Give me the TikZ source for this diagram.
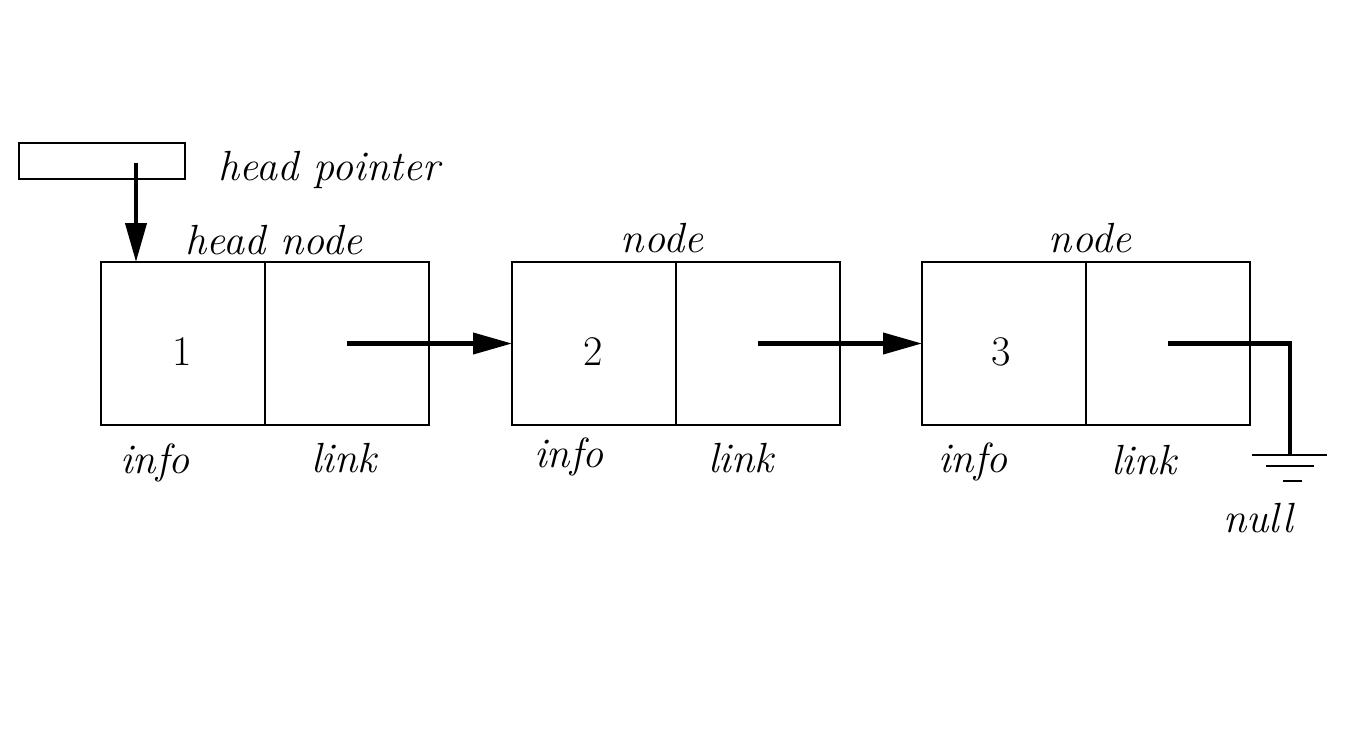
\documentclass[tikz,border=0pt]{standalone}
\usetikzlibrary{positioning,arrows.meta}

\tikzset{
  cell/.style={draw, line width=1pt, minimum width=3.28cm, minimum height=3.26cm, inner sep=0pt, outer sep=0pt},
  lbl/.style={font=\fontsize{24}{28}\selectfont\itshape, inner sep=0pt},
  num/.style={font=\fontsize{24}{28}\selectfont, inner sep=0pt},
  ptr/.style={line width=2.3pt, -{Triangle[length=0.78cm,width=0.42cm]}},
}

\begin{document}
\begin{tikzpicture}[x=0.02cm,y=-0.02cm]
  \useasboundingbox (0,0) rectangle (1350,741);

  \node[draw, line width=1pt, minimum width=3.32cm, minimum height=0.72cm, inner sep=0pt] (hp) at (102,161) {};
  \node[lbl] (hplabel) at (329,170) {head pointer};

  \node[cell] (info1) at (183,343.5) {};
  \node[cell, right=0pt of info1] (link1) {};
  \node[cell] (info2) at (594,343.5) {};
  \node[cell, right=0pt of info2] (link2) {};
  \node[cell] (info3) at (1004,343.5) {};
  \node[cell, right=0pt of info3] (link3) {};

  \node[num] (val1) at (182,352) {1};
  \node[num] (val2) at (593,352) {2};
  \node[num] (val3) at (1001,352) {3};

  \node[lbl] (headnode) at (274,240) {head node};
  \node[lbl] (node2) at (662,238) {node};
  \node[lbl] (node3) at (1090,238) {node};

  \node[lbl] (info1l) at (155,463) {info};
  \node[lbl] (link1l) at (344,458) {link};
  \node[lbl] (info2l) at (569,457) {info};
  \node[lbl] (link2l) at (741,458) {link};
  \node[lbl] (info3l) at (973,462) {info};
  \node[lbl] (link3l) at (1144,460) {link};
  \node[lbl] (null) at (1258,518) {null};

  \coordinate (hpstart) at (136,163);
  \draw[ptr] (hpstart) -- (hpstart |- info1.north);
  \draw[ptr] (link1.center) -- (info2.west);
  \draw[ptr] (link2.center) -- (info3.west);

  \coordinate (bend) at (1290,343.5);
  \coordinate (gnd) at (1290,455);
  \draw[line width=2.3pt] (link3.center) -- (bend) -- (gnd);
  \draw[line width=1pt] ([xshift=-0.76cm]gnd) -- ([xshift=0.74cm]gnd);
  \draw[line width=1pt] ([xshift=-0.48cm,yshift=-0.22cm]gnd) -- ([xshift=0.48cm,yshift=-0.22cm]gnd);
  \draw[line width=1pt] ([xshift=-0.14cm,yshift=-0.52cm]gnd) -- ([xshift=0.24cm,yshift=-0.52cm]gnd);
\end{tikzpicture}
\end{document}
